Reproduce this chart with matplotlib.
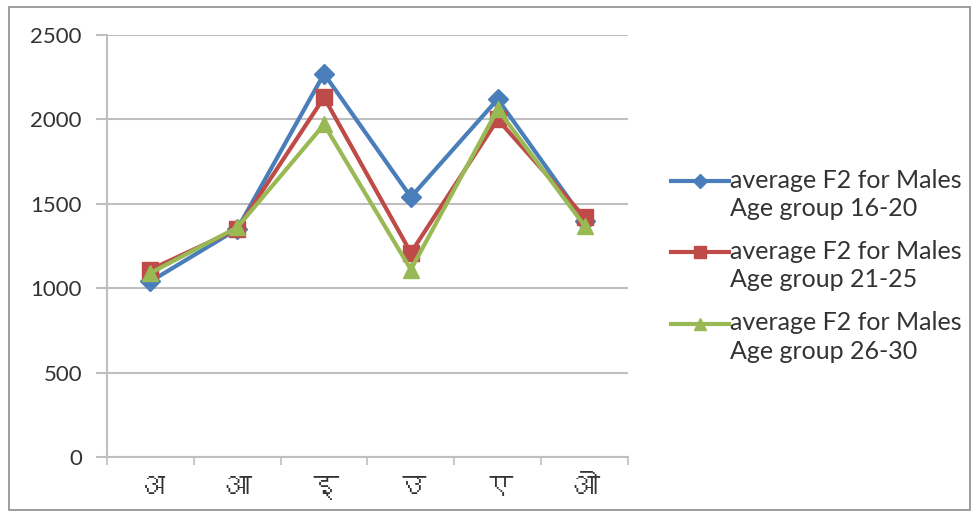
import matplotlib
matplotlib.use("Agg")
import matplotlib.pyplot as plt
from matplotlib import font_manager
from matplotlib.ft2font import FT2Font
from matplotlib.legend_handler import HandlerLine2D
from matplotlib.patches import Rectangle

# vowel categories and average F2 values per age group
vowels = ["अ", "आ", "इ", "उ", "ए", "ओ"]
f2_16_20 = [1040, 1350, 2270, 1540, 2120, 1400]
f2_21_25 = [1110, 1350, 2130, 1210, 2000, 1420]
f2_26_30 = [1090, 1360, 1970, 1110, 2060, 1370]
labels = ["average F2 for Males\nAge group 16-20",
          "average F2 for Males\nAge group 21-25",
          "average F2 for Males\nAge group 26-30"]


def find_devanagari_font():
    # look for any installed font that has the Devanagari letter A
    for f in font_manager.fontManager.ttflist:
        try:
            if 0x0905 in FT2Font(f.fname).get_charmap():
                return f.name
        except Exception:
            continue
    return "DejaVu Sans"


class TopLineHandler(HandlerLine2D):
    # puts the legend line level with the first line of a two-line label
    def __init__(self, shift, **kw):
        super().__init__(**kw)
        self.shift = shift

    def create_artists(self, *args, **kwargs):
        artists = super().create_artists(*args, **kwargs)
        for a in artists:
            a.set_ydata([y + self.shift for y in a.get_ydata()])
        return artists


deva_font = find_devanagari_font()
plt.rcParams["font.family"] = ["Lato", "DejaVu Sans"]

fig = plt.figure(figsize=(9.76, 5.14), dpi=100)
ax = fig.add_axes([0.1096, 0.1109, 0.5338, 0.821])

# outer border round the whole chart
fig.patches.append(Rectangle((0.009, 0.008), 0.985, 0.978, transform=fig.transFigure,
                             fill=False, edgecolor="#8c8c8c", linewidth=1.2))

x = list(range(len(vowels)))
l1, = ax.plot(x, f2_16_20, color="#4a7ebb", linewidth=3, marker="D", markersize=10,
              label=labels[0], zorder=3)
l2, = ax.plot(x, f2_21_25, color="#be4b48", linewidth=3, marker="s", markersize=11,
              label=labels[1], zorder=4)
l3, = ax.plot(x, f2_26_30, color="#98b954", linewidth=3, marker="^", markersize=12,
              label=labels[2], zorder=5)

ax.set_ylim(0, 2500)
ax.set_yticks(range(0, 2501, 500))
ax.set_xlim(-0.5, len(vowels) - 0.5)
ax.set_xticks(x)
ax.set_xticklabels(vowels, family=[deva_font, "DejaVu Sans"], fontsize=21, color="#333333")
ax.set_xticks([i - 0.5 for i in range(len(vowels) + 1)], minor=True)

ax.grid(axis="y", color="#bfbfbf", linewidth=1.5)
ax.set_axisbelow(True)
for side in ["top", "right"]:
    ax.spines[side].set_visible(False)
for side in ["left", "bottom"]:
    ax.spines[side].set_color("#bfbfbf")
    ax.spines[side].set_linewidth(1.5)

ax.tick_params(axis="y", length=8, width=1.5, color="#bfbfbf", labelsize=16,
               labelcolor="#333333", pad=10)
ax.tick_params(axis="x", which="major", length=0, pad=13)
ax.tick_params(axis="x", which="minor", length=6, width=1.2, color="#bfbfbf")

handler = TopLineHandler(shift=10)
leg = fig.legend(loc="upper left", bbox_to_anchor=(0.688, 0.672), frameon=False,
                 fontsize=18, handlelength=2.3, handletextpad=0.05,
                 labelspacing=0.8, borderaxespad=0, borderpad=0, markerscale=0.75,
                 handler_map={l1: handler, l2: handler, l3: handler})
for t in leg.get_texts():
    t.set_color("#333333")
    t.set_linespacing(1.28)

fig.savefig("out.png", dpi=100)
